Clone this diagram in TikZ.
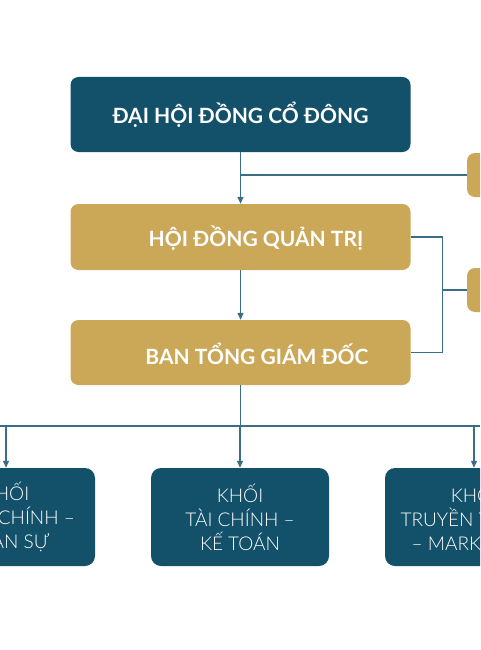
\documentclass[tikz,border=0pt]{standalone}
\usepackage{fontspec}
\setmainfont{Lato}
\newfontfamily\lightfont{Lato}[UprightFont = * Light]
\usetikzlibrary{arrows.meta}
\definecolor{teal}{HTML}{13506A}
\definecolor{gold}{HTML}{CBA857}
\definecolor{wire}{HTML}{3A6E86}

\begin{document}
\begin{tikzpicture}[x=1pt,y=-1pt,
    box/.style={draw=none,rounded corners=8pt,text=white,inner sep=0pt},
    title/.style={font=\bfseries\fontsize{21}{24}\selectfont,text=white},
    line/.style={wire,line width=1.3pt},
    arrow/.style={line,-{Triangle[width=6pt,length=7pt]}}]
    \useasboundingbox (0,0) rectangle (480,650);
    \clip (0,0) rectangle (480,650);
    % top levels
    \node[box,title,fill=teal,minimum width=340pt,minimum height=75pt] (dhdcd) at (240.5,114.5) {ĐẠI HỘI ĐỒNG CỔ ĐÔNG};
    \node[box,fill=gold,minimum width=340pt,minimum height=66pt] (hdqt) at (240.5,237) {};
    \node[title] at (256,238) {HỘI ĐỒNG QUẢN TRỊ}; % offset label
    \node[box,fill=gold,minimum width=340pt,minimum height=65pt] (btgd) at (240.5,352.5) {};
    \node[title] at (257,354) {BAN TỔNG GIÁM ĐỐC}; % offset label
    % side boxes (cut off at the right edge)
    \node[box,fill=gold,minimum width=60pt,minimum height=44pt] (side1) at (497,175) {};
    \node[box,fill=gold,minimum width=60pt,minimum height=44pt] (side2) at (497,290) {};
    % departments
    \foreach \name/\cx/\txt in {khoiHC/6/{KHỐI\\HÀNH CHÍNH –\\NHÂN SỰ},
                               khoiTC/240/{KHỐI\\TÀI CHÍNH –\\KẾ TOÁN},
                               khoiTT/474/{KHỐI\\TRUYỀN THÔNG\\– MARKETING}}
      \node[box,fill=teal,rounded corners=10pt,minimum width=178pt,minimum height=98pt,align=center,
            font=\lightfont\fontsize{19}{24}\selectfont] (\name) at (\cx,517) {\txt};
    % connectors
    \draw[arrow] (dhdcd.south) -- (hdqt.north);
    \coordinate (j1) at (240.5,175);
    \draw[line] (j1) -- (side1.west);
    \draw[arrow] (hdqt.south) -- (btgd.north);
    \draw[line] (hdqt.east) -- ++(32,0) |- (btgd.east);
    \coordinate (j2) at (443,290);
    \draw[line] (j2) -- (side2.west);
    \coordinate (bus) at (240,426);
    \draw[line] (btgd.south) -- (btgd.south |- bus);
    \draw[line] (0,426) -- (480,426); % bus line
    \foreach \name in {khoiHC,khoiTC,khoiTT}
      \draw[arrow] (\name.north |- bus) -- (\name.north);
\end{tikzpicture}
\end{document}
